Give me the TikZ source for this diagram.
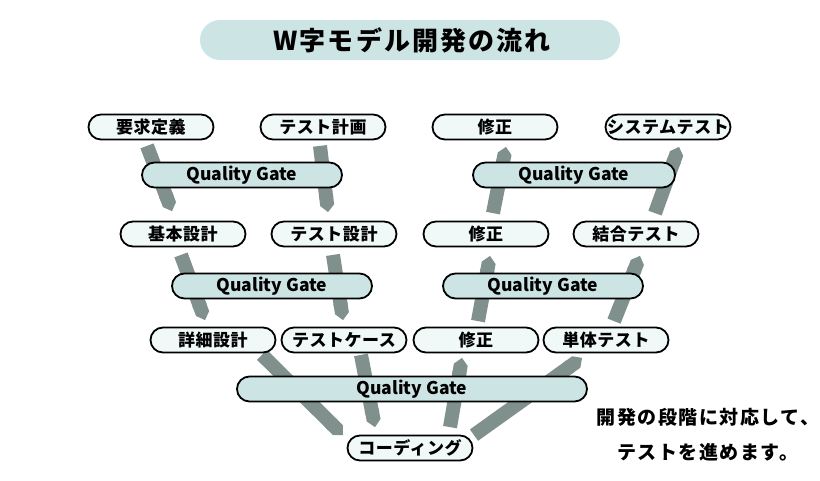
\documentclass[tikz,border=0pt]{standalone}
\usepackage{fontspec}
\setmainfont{Noto Sans CJK JP}
\usetikzlibrary{arrows.meta, calc, positioning, backgrounds}
\definecolor{gateteal}{RGB}{205,228,228}
\definecolor{stepwhite}{RGB}{240,248,248}
\definecolor{bandgray}{RGB}{128,144,141}
\tikzstyle{blockwhite} = [rectangle, rounded corners=12.5pt, minimum width=125pt, minimum height=25pt, inner sep=0pt, text centered, draw=black, line width=1.8pt, fill=stepwhite, font=\fontsize{17}{17}\selectfont\bfseries\addfontfeatures{LetterSpace=3}]
\tikzstyle{blockteal} = [blockwhite, fill=gateteal, minimum width=200pt, font=\fontsize{17.5}{17.5}\selectfont\bfseries]
\tikzstyle{titlebox} = [rectangle, rounded corners=20pt, minimum width=420pt, minimum height=40pt, inner sep=0pt, fill=gateteal, font=\fontsize{26}{26}\selectfont\bfseries\addfontfeatures{LetterSpace=8}]
\tikzstyle{arrow} = [line width=14pt, draw=bandgray, -{Triangle Cap}]
\begin{document}
\begin{tikzpicture}[x=1pt, y=-1pt]
\useasboundingbox (0,0) rectangle (820,480);

\node (title) [titlebox] at (410,40) {\hspace{4pt}W字モデル開発の流れ};

\node (requirements) [blockwhite] at (151,127) {要求定義};
\node (testplan) [blockwhite] at (323,127) {テスト計画};
\node (fixone) [blockwhite] at (495,127) {修正};
\node (systemtest) [blockwhite] at (668,127) {システムテスト};

\node (gateone) [blockteal] at (242,175) {Quality Gate};
\node (gatetwo) [blockteal, minimum width=202pt] at (574,175) {Quality Gate};

\node (basicdesign) [blockwhite] at (183,234) {基本設計};
\node (testdesign) [blockwhite] at (334,234) {テスト設計};
\node (fixtwo) [blockwhite] at (486,234) {修正};
\node (integrationtest) [blockwhite] at (636,234) {結合テスト};

\node (gatethree) [blockteal] at (272,286) {Quality Gate};
\node (gatefour) [blockteal] at (543,286) {Quality Gate};

\node (detaildesign) [blockwhite] at (213,340) {詳細設計};
\node (testcase) [blockwhite] at (344,340) {テストケース};
\node (fixthree) [blockwhite] at (476,340) {修正};
\node (unittest) [blockwhite] at (606,340) {単体テスト};

\node (gatefive) [blockteal, minimum width=350pt] at (412,389) {Quality Gate};
\node (coding) [blockwhite] at (410,448) {コーディング};

\node (note) [align=center, font=\fontsize{19}{35}\selectfont\bfseries\addfontfeatures{LetterSpace=8}] at (708,434.5) {開発の段階に対応して、\\テストを進めます。};

\begin{pgfonlayer}{background}
\fill [white] (0,0) rectangle (820,480);
% left side goes down
\draw [arrow] ($(requirements.south)+(-4,5.5)$) -- ($(basicdesign.north)+(-11,-9.5)$);
\draw [arrow] ($(testplan.south)+(-3,5.5)$) -- ($(testdesign.north)+(-6,-8.5)$);
\draw [arrow] ($(basicdesign.south)+(-2,7.5)$) -- ($(detaildesign.north)+(-8,-6.5)$);
\draw [arrow] ($(testdesign.south)+(-1,7.5)$) -- ($(testcase.north)+(-1,-6.5)$);
\draw [arrow] ($(detaildesign.south)+(49,1.5)$) -- ($(coding.north)+(-67,0.5)$);
\draw [arrow] ($(testcase.south)+(17,1.5)$) -- ($(coding.north)+(-35,-7.5)$);
% right side goes up
\draw [arrow] ($(coding.north)+(40,-7.5)$) -- ($(fixthree.south)+(-14,4.5)$);
\draw [arrow] ($(coding.north)+(64,0.5)$) -- ($(unittest.south)+(-24,4.5)$);
\draw [arrow] ($(fixthree.north)+(2,-5.5)$) -- ($(fixtwo.south)+(4,8.5)$);
\draw [arrow] ($(unittest.north)+(8,-5.5)$) -- ($(integrationtest.south)+(4,8.5)$);
\draw [arrow] ($(fixtwo.north)+(7,-7.5)$) -- ($(fixone.south)+(11,6.5)$);
\draw [arrow] ($(integrationtest.north)+(19,-7.5)$) -- ($(systemtest.south)+(11,6.5)$);
\end{pgfonlayer}

\end{tikzpicture}
\end{document}
